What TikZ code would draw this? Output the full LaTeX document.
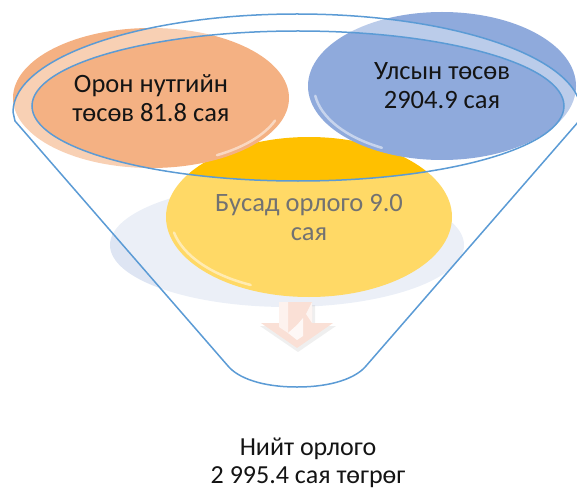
\documentclass[tikz,border=0pt]{standalone}
\usepackage{fontspec}
\setmainfont{Carlito}
\usetikzlibrary{shapes.geometric}
\definecolor{funnelblue}{RGB}{91,155,213}
\definecolor{orangefill}{RGB}{244,177,131}
\definecolor{bluefill}{RGB}{143,170,220}
\definecolor{yellowfill}{RGB}{255,192,0}
\definecolor{shadowfill}{RGB}{222,229,243}
\definecolor{arrowpink}{RGB}{250,224,214}
\definecolor{textdark}{RGB}{20,20,20}
\begin{document}
\begin{tikzpicture}[x=1pt,y=-1pt,
  bubble/.style={ellipse, inner sep=0pt, align=center, text=textdark,
    font=\fontsize{26.5}{29}\selectfont},
  rimline/.style={draw=funnelblue, line width=1.5pt},
  gloss/.style={white, line width=2.5pt, opacity=0.5, line cap=round}]
\useasboundingbox (0,0) rectangle (577,489);
\clip (0,0) rectangle (577,489);
% reflection behind the yellow bubble
\fill[shadowfill] (287,245) ellipse [x radius=177, y radius=62];
% bubbles
\node[bubble, fill=yellowfill, minimum width=286pt, minimum height=160pt] (yellow) at (309,217) {Бусад орлого 9.0\\сая};
\draw[gloss] (309,217) ++(115:138 and 75) arc[start angle=115, end angle=168, x radius=138, y radius=75];
\node[bubble, fill=orangefill, minimum width=276pt, minimum height=140pt] (orange) at (151,98) {Орон нутгийн\\төсөв 81.8 сая};
\draw[gloss] (151,98) ++(60:132 and 66) arc[start angle=60, end angle=20, x radius=132, y radius=66];
\node[bubble, fill=bluefill, minimum width=268pt, minimum height=148pt] (blue) at (442,86) {Улсын төсөв\\2904.9 сая};
\draw[gloss] (442,86) ++(118:128 and 70) arc[start angle=118, end angle=172, x radius=128, y radius=70];
% funnel wall (translucent)
\path[fill=white, fill opacity=0.4, even odd rule]
  (13,112) arc[start angle=180, end angle=360, x radius=284, y radius=98]
  -- (579,121) -- (366,366) .. controls (356,378) and (332,387) .. (297,387)
  .. controls (262,387) and (238,378) .. (228,366) -- (15,121) -- cycle
  (298,106) ellipse [x radius=266, y radius=75];
% arrow
\fill[gray, opacity=0.12] (282,305) -- (315,305) -- (315,326) -- (336,326) -- (298,352) -- (260,326) -- (282,326) -- cycle;
\fill[arrowpink] (279,302) -- (312,302) -- (312,323) -- (333,323) -- (297,348) -- (261,323) -- (279,323) -- cycle;
\fill[white, opacity=0.6] (279,302) -- (288,302) -- (288,333) -- (279,327) -- cycle;
\fill[white, opacity=0.8] (288,333) -- (297,325) -- (303,318) -- (303,336) -- (297,340) -- cycle;
\fill[white, opacity=0.7] (312,302) -- (312,323) -- (306,314) -- cycle;
% funnel outlines
\draw[rimline, line join=round]
  (13,112) arc[start angle=180, end angle=360, x radius=284, y radius=98]
  -- (579,121) -- (366,366) .. controls (356,378) and (332,387) .. (297,387)
  .. controls (262,387) and (238,378) .. (228,366) -- (15,121) -- cycle;
\draw[rimline] (298,106) ellipse [x radius=266, y radius=75];
% total
\node[align=center, text=textdark, font=\fontsize{26}{28}\selectfont] (total) at (308,463) {Нийт орлого\\2 995.4 сая төгрөг};
\end{tikzpicture}
\end{document}
